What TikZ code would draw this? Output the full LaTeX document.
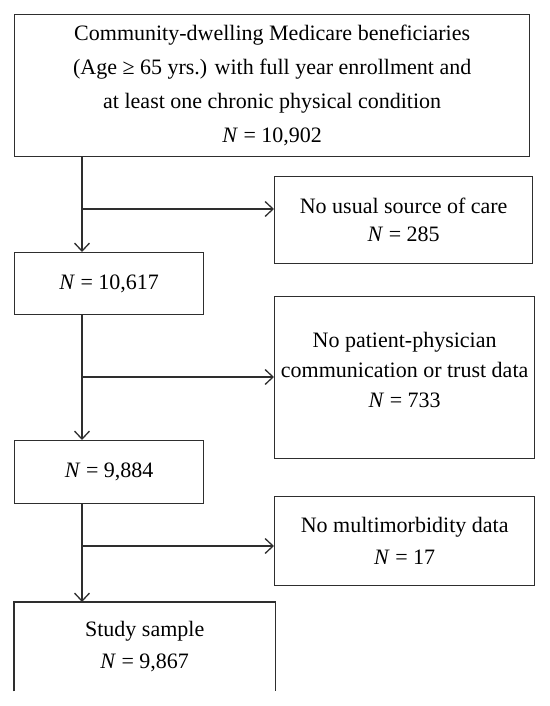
\documentclass[tikz,border=0pt]{standalone}
\usepackage{fontspec}
\setmainfont{Liberation Serif}
\usetikzlibrary{positioning,arrows.meta}
\definecolor{FlowGray}{HTML}{2E2E2E}

\begin{document}
\begin{tikzpicture}[
  x=1pt,y=-1pt,
  every node/.style={font=\fontsize{22}{32}\selectfont,align=center,inner sep=1pt,anchor=north west},
  b/.style={draw=FlowGray,line width=1.3pt},
  arr/.style={-{Straight Barb[length=8pt,width=15pt]},draw=FlowGray,line width=1.3pt}
]
  \useasboundingbox (0,0) rectangle (549,706);
  \node[b,minimum width=515,minimum height=142] (p) at (14,14)
    {Community-dwelling Medicare beneficiaries\\[2pt](Age ≥ 65 yrs.) with full year enrollment and\\[2pt]at least one chronic physical condition\\[2pt]\textit{N} = 10,902};
  \node[b,minimum width=258,minimum height=87] (x1) at (274,176)
    {No usual source of care\\[-4pt]\textit{N} = 285};
  \node[b,minimum width=260,minimum height=162] (x2) at (274,296)
    {No patient-physician\\[-2pt]communication or trust data\\[-2pt]\textit{N} = 733\\[-26pt]\strut};
  \node[b,minimum width=189,minimum height=62] (n1) at (14,252) {\textit{N} = 10,617};
  \node[b,minimum width=189,minimum height=63] (n2) at (14,440) {\textit{N} = 9,884};
  \node[b,minimum width=260,minimum height=89] (x3) at (274,496)
    {No multimorbidity data\\\textit{N} = 17};
  \node[minimum width=261,minimum height=89] (s) at (14,602)
    {Study sample\\\textit{N} = 9,867};
  \draw[draw=FlowGray,line width=1.3pt] (s.south west) -- (s.north west) -- (s.north east) -- (s.south east);
  % trunk and branches
  \coordinate (t1) at (82,209);
  \coordinate (t2) at (82,377);
  \coordinate (t3) at (82,546);
  \draw[arr] (p.south -| t1) -- (n1.north -| t1);
  \draw[arr] (t1) -- (t1 -| x1.west);
  \draw[arr] (n1.south -| t2) -- (n2.north -| t2);
  \draw[arr] (t2) -- (t2 -| x2.west);
  \draw[arr] (n2.south -| t3) -- (s.north -| t3);
  \draw[arr] (t3) -- (t3 -| x3.west);
\end{tikzpicture}
\end{document}
